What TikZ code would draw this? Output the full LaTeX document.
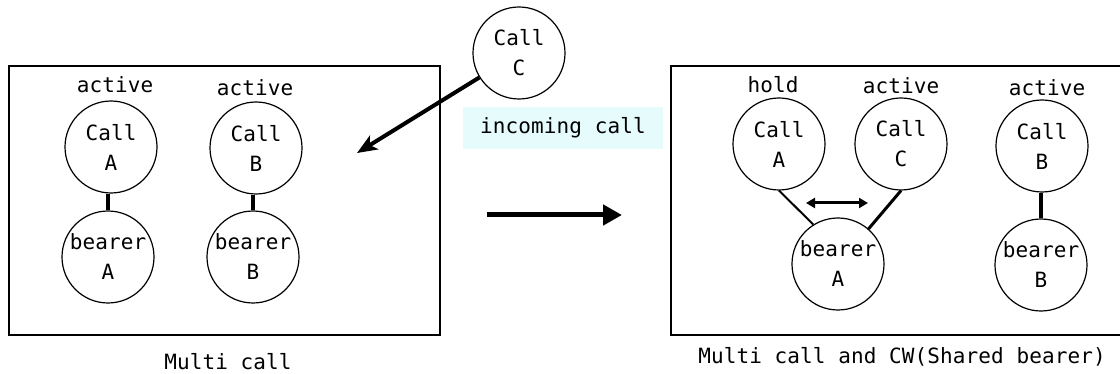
\documentclass[tikz,border=0pt]{standalone}
\usepackage{fontspec}
\newfontfamily\gfont[LetterSpace=0.5]{DejaVu Sans Mono}
\usetikzlibrary{arrows.meta}
\definecolor{bgcyan}{RGB}{230,252,252}
\begin{document}
\begin{tikzpicture}[x=1pt,y=-1pt,
  every node/.style={font=\gfont\fontsize{21}{30}\selectfont},
  ball/.style={circle, draw, line width=1.2pt, minimum size=92pt, inner sep=0pt, align=center},
  frame/.style={draw, line width=2pt, inner sep=0pt},
  lbl/.style={anchor=base, inner sep=0pt},
  link/.style={line width=3.5pt},
  ]
\clip (0,0) rectangle (1120,374);
\fill[white] (0,0) rectangle (1120,374);

% frames
\node[frame, minimum width=431pt, minimum height=269pt] (box1) at (224.5,200.5) {};
\node[frame, minimum width=459pt, minimum height=269pt] (box2) at (900.5,200.5) {};

% left group
\node[ball] (cA) at (111,147) {Call\\A};
\node[ball] (bA) at (108,257) {bearer\\A};
\node[ball] (cB) at (256,148) {Call\\B};
\node[ball] (bB) at (253,257) {bearer\\B};
\node[lbl] (lA) at (115,93) {active};
\node[lbl] (lB) at (255,96) {active};
\draw[link] (bA.north) -- (bA.north |- cA.south);
\draw[link] (bB.north) -- (bB.north |- cB.south);
\node[lbl] (cap1) at (228,369) {Multi call};

% incoming call
\node[ball] (cC) at (519,53) {Call\\C};
\node[fill=bgcyan, minimum width=200pt, minimum height=42pt, inner sep=0pt] (inc) at (563,128) {incoming call};
\coordinate (inTip) at (357,153);
\draw[line width=4pt, -{Stealth[length=20pt,width=16pt,inset=5pt]}] (cC) -- (inTip);

% transition arrow
\coordinate (mS) at (487,215);
\coordinate (mE) at (622,215);
\draw[line width=5pt, -{Triangle[length=19pt,width=20pt]}] (mS) -- (mE);

% right group
\node[ball] (rcA) at (779,144) {Call\\A};
\node[ball] (rcC) at (901,144) {Call\\C};
\node[ball] (rcB) at (1042,146) {Call\\B};
\node[ball] (rbA) at (838,264) {bearer\\A};
\node[ball] (rbB) at (1041,265) {bearer\\B};
\node[lbl] (lhold) at (773,93) {hold};
\node[lbl] (lC) at (901,94) {active};
\node[lbl] (lrB) at (1047,96) {active};
\draw[line width=2pt] (rcA.south) -- (rbA.122);
\draw[line width=3pt] (rcC.south) -- (rbA.49);
\draw[link] (rbB.north) -- (rbB.north |- rcB.south);
\coordinate (dL) at (806,203);
\coordinate (dR) at (868,203);
\draw[line width=3pt, {Triangle[length=9pt,width=10pt]}-{Triangle[length=9pt,width=10pt]}] (dL) -- (dR);
\node[lbl] (cap2) at (902,363) {Multi call and CW(Shared bearer)};
\end{tikzpicture}
\end{document}
